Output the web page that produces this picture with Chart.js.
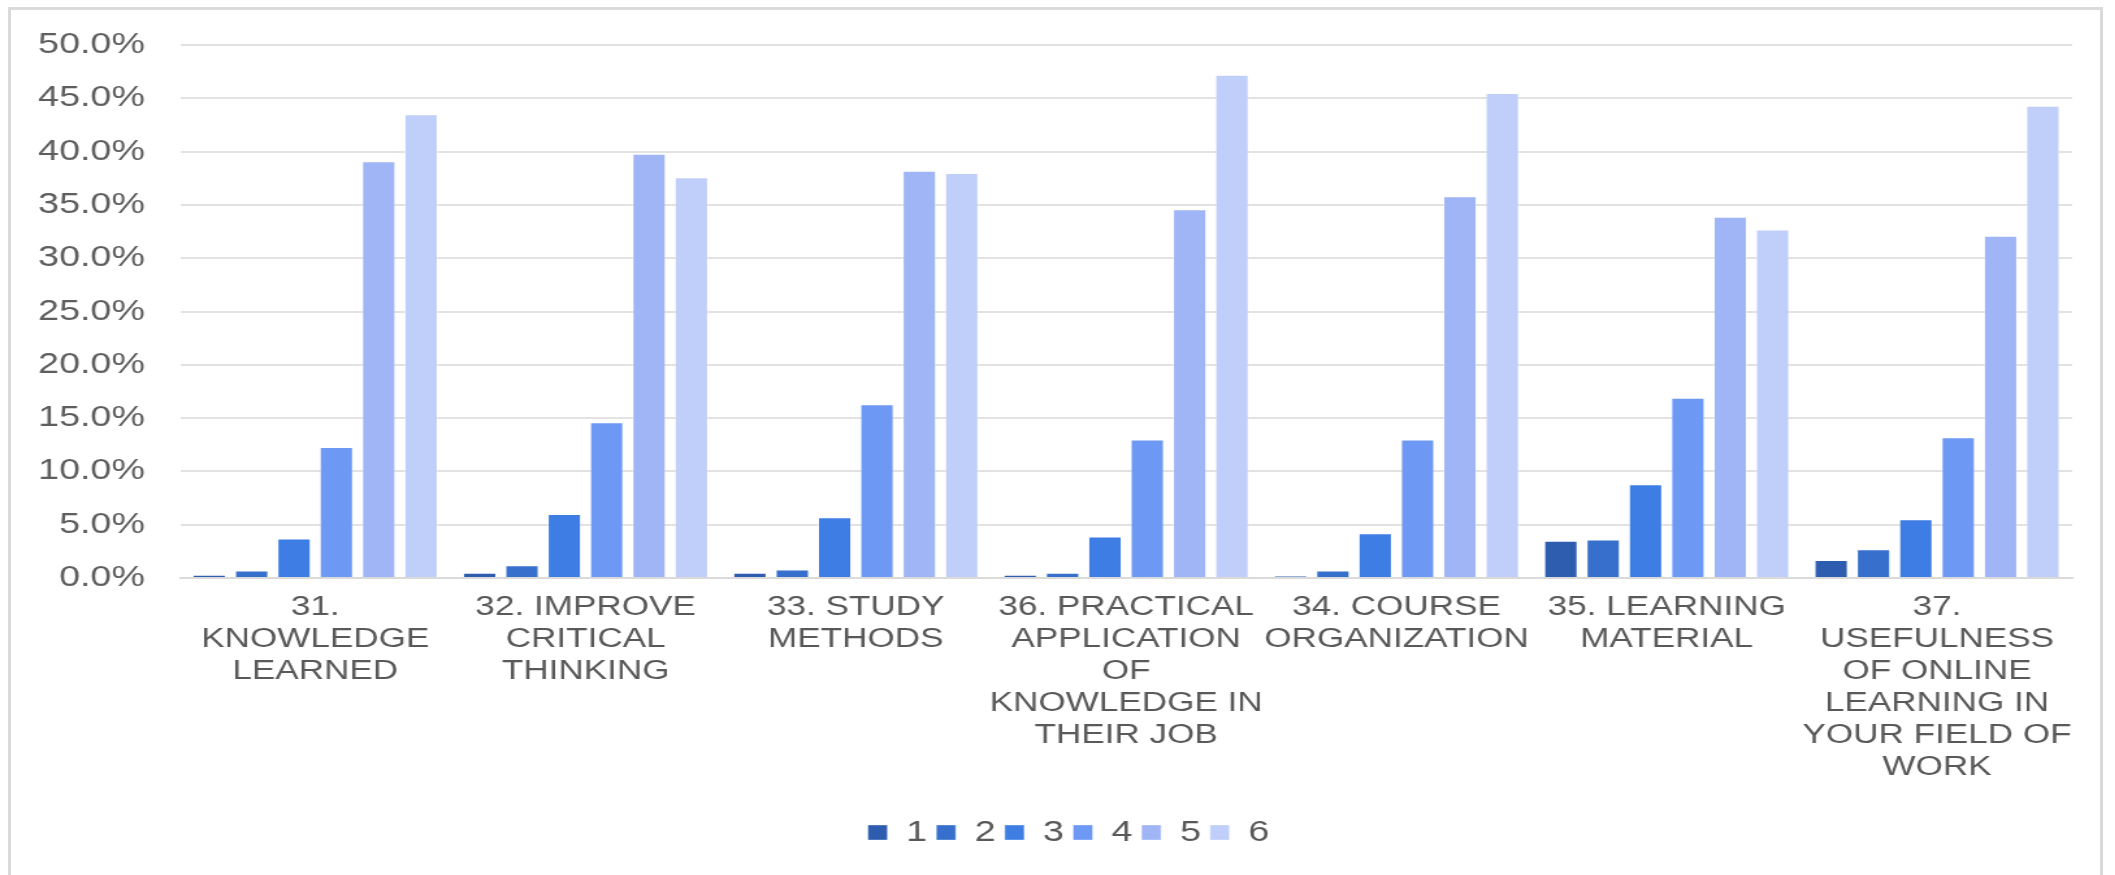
<!DOCTYPE html>
<html>
<head>
<meta charset="utf-8">
<script src="https://cdn.jsdelivr.net/npm/chart.js@4"></script>
<style>
  html, body { margin: 0; padding: 0; background: #ffffff; overflow: hidden; }
  #frame { position: absolute; left: 8px; top: 7px; width: 2095px; height: 900px; border: 3px solid #dadada; box-sizing: border-box; }
  #wrap { position: absolute; left: 0; top: 0; width: 1627px; height: 875px; transform: scaleX(1.3); transform-origin: 0 0; }
</style>
</head>
<body>
<div id="frame"></div>
<div id="wrap"><canvas id="c"></canvas></div>
<script>
const categories = [
  ["31.", "KNOWLEDGE", "LEARNED"],
  ["32. IMPROVE", "CRITICAL", "THINKING"],
  ["33. STUDY", "METHODS"],
  ["36. PRACTICAL", "APPLICATION", "OF", "KNOWLEDGE IN", "THEIR JOB"],
  ["34. COURSE", "ORGANIZATION"],
  ["35. LEARNING", "MATERIAL"],
  ["37.", "USEFULNESS", "OF ONLINE", "LEARNING IN", "YOUR FIELD OF", "WORK"]
];
const seriesNames = ["1", "2", "3", "4", "5", "6"];
const s1 = [0.3, 0.5, 0.5, 0.3, 0.2, 3.5, 1.7];
const s2 = [0.7, 1.2, 0.8, 0.5, 0.7, 3.6, 2.7];
const s3 = [3.7, 6.0, 5.7, 3.9, 4.2, 8.8, 5.5];
const s4 = [12.3, 14.6, 16.3, 13.0, 13.0, 16.9, 13.2];
const s5 = [39.1, 39.8, 38.2, 34.6, 35.8, 33.9, 32.1];
const s6 = [43.5, 37.6, 38.0, 47.2, 45.5, 32.7, 44.3];
const yMin = 0, yMax = 50, yStep = 5;

const colors = ["#2e5db0", "#3670cc", "#3e7ee4", "#6d98f3", "#9fb5f6", "#c0cff9"];
const allSeries = [s1, s2, s3, s4, s5, s6];

const FONT = "'Liberation Sans', Arial, sans-serif";

const legendShift = {
  id: 'legendShift',
  afterLayout(chart) {
    if (chart.legend) { chart.legend.left += 25; chart.legend.right += 25; }
  }
};

new Chart(document.getElementById('c'), {
  type: 'bar',
  data: {
    labels: categories,
    datasets: allSeries.map((s, i) => ({
      label: seriesNames[i],
      data: s,
      backgroundColor: colors[i],
      borderColor: 'rgba(255,255,255,0.35)',
      borderWidth: 1,
      categoryPercentage: 0.94,
      barPercentage: 0.8
    }))
  },
  plugins: [legendShift],
  options: {
    responsive: true,
    maintainAspectRatio: false,
    animation: false,
    devicePixelRatio: 1,
    layout: { padding: { left: 0, right: 33, top: 45, bottom: 18 } },
    plugins: {
      tooltip: { enabled: false },
      legend: {
        position: 'bottom',
        labels: {
          boxWidth: 15, boxHeight: 15, padding: 7,
          color: '#595959',
          font: { family: FONT, size: 29 }
        }
      }
    },
    scales: {
      x: {
        grid: { display: false, drawTicks: false },
        border: { display: true, color: '#dadada', width: 2 },
        ticks: {
          autoSkip: false, maxRotation: 0, minRotation: 0,
          padding: 14,
          color: '#595959',
          font: { family: FONT, size: 27, lineHeight: 1.18 }
        },
        afterFit: (scale) => { scale.height = 233; }
      },
      y: {
        min: yMin, max: yMax,
        grid: { color: '#e2e2e2', lineWidth: 2, drawTicks: false },
        border: { display: false },
        ticks: {
          stepSize: yStep,
          padding: 27,
          color: '#5e5e5e',
          font: { family: FONT, size: 29 },
          callback: (v) => v.toFixed(1) + '%'
        },
        afterFit: (scale) => { scale.width = 138.5; }
      }
    }
  }
});
</script>
</body>
</html>
